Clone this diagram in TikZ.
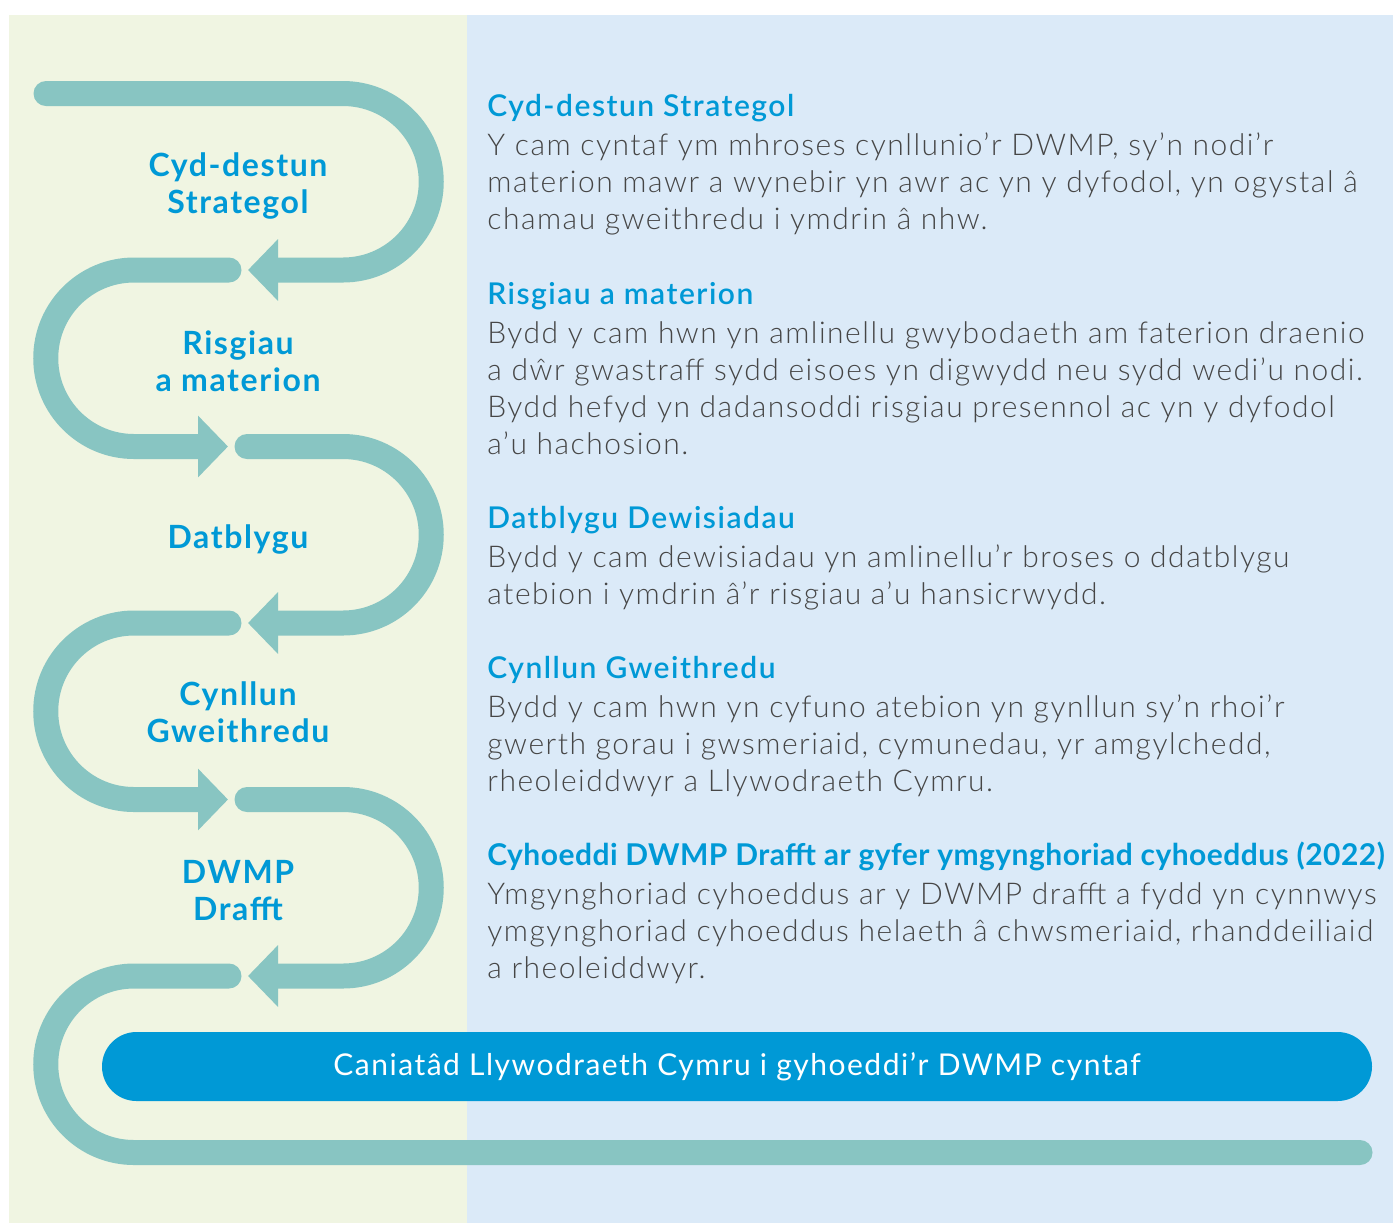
\documentclass[tikz,border=0pt]{standalone}
\usepackage{fontspec}
\setmainfont{Lato}[LetterSpace=5]
\newfontfamily\lightfont{Lato Light}[LetterSpace=5]
\newfontfamily\plainfont{Lato}[LetterSpace=1.5]
\usetikzlibrary{arrows.meta}
\definecolor{trackteal}{RGB}{136,197,194}
\definecolor{panelgreen}{RGB}{240,245,226}
\definecolor{panelblue}{RGB}{219,234,248}
\definecolor{dwmpblue}{RGB}{0,153,214}
\definecolor{bodygrey}{RGB}{70,70,70}
\newcommand\stephead[1]{{\bfseries\color{dwmpblue}#1}}
\tikzset{
  track/.style={draw=trackteal, line width=12.5pt, line cap=round},
  tip/.style={-{Triangle[length=15pt,width=30pt]}},
  steplabel/.style={anchor=base, inner sep=0pt, font=\fontsize{16}{18.5}\selectfont\bfseries, text=dwmpblue},
  infoblock/.style={anchor=base west, inner sep=0pt, font=\fontsize{15}{18.5}\selectfont\lightfont, text=bodygrey},
  permit/.style={fill=dwmpblue, rounded corners=17.25pt, minimum width=635pt, minimum height=34.5pt, inner sep=0pt, text=white, font=\fontsize{15}{18}\selectfont}
}
\begin{document}
\begin{tikzpicture}[x=0.5pt,y=-0.5pt]
\useasboundingbox (0,0) rectangle (1393,1223);
% panels
\fill[panelgreen] (9,15) rectangle (467,1223);
\fill[panelblue] (467,15) rectangle (1393,1223);
% serpentine track
\foreach \xs/\y in {46/93.5,247/446.5,247/799.5}
  \draw[track,tip] (\xs,\y) -- (343,\y) arc(-90:90:88.25) -- (248,{\y+176.5});
\foreach \y in {270,623}
  \draw[track,tip] (229,\y) -- (134,\y) arc(-90:-270:88.25) -- (228,{\y+176.5});
\draw[track] (229,976) -- (134,976) arc(-90:-270:88.25) -- (1360,1152.5);
% step names
\node[steplabel] (context) at (238,176) {\begin{tabular}[t]{@{}c@{}}Cyd-destun\\Strategol\end{tabular}};
\node[steplabel] (risks) at (238,354) {\begin{tabular}[t]{@{}c@{}}Risgiau\\a materion\end{tabular}};
\node[steplabel] (options) at (238,548) {Datblygu};
\node[steplabel] (plan) at (238,705) {\begin{tabular}[t]{@{}c@{}}Cynllun\\Gweithredu\end{tabular}};
\node[steplabel] (draft) at (238,883) {\begin{tabular}[t]{@{}c@{}}DWMP\\Drafft\end{tabular}};
% descriptions
\node[infoblock] (contextinfo) at (487,116) {\begin{tabular}[t]{@{}l@{}}\stephead{Cyd-destun Strategol}\\[1pt]
  Y cam cyntaf ym mhroses cynllunio’r DWMP, sy’n nodi’r\\
  materion mawr a wynebir yn awr ac yn y dyfodol, yn ogystal â\\
  chamau gweithredu i ymdrin â nhw.\end{tabular}};
\node[infoblock] (risksinfo) at (487,304) {\begin{tabular}[t]{@{}l@{}}\stephead{Risgiau a materion}\\[1pt]
  Bydd y cam hwn yn amlinellu gwybodaeth am faterion draenio\\
  a dŵr gwastraff sydd eisoes yn digwydd neu sydd wedi’u nodi.\\
  Bydd hefyd yn dadansoddi risgiau presennol ac yn y dyfodol\\
  a’u hachosion.\end{tabular}};
\node[infoblock] (optionsinfo) at (487,528) {\begin{tabular}[t]{@{}l@{}}\stephead{Datblygu Dewisiadau}\\[1pt]
  Bydd y cam dewisiadau yn amlinellu’r broses o ddatblygu\\
  atebion i ymdrin â’r risgiau a’u hansicrwydd.\end{tabular}};
\node[infoblock] (planinfo) at (487,678) {\begin{tabular}[t]{@{}l@{}}\stephead{Cynllun Gweithredu}\\[1pt]
  Bydd y cam hwn yn cyfuno atebion yn gynllun sy’n rhoi’r\\
  gwerth gorau i gwsmeriaid, cymunedau, yr amgylchedd,\\
  rheoleiddwyr a Llywodraeth Cymru.\end{tabular}};
\node[infoblock] (draftinfo) at (487,865) {\begin{tabular}[t]{@{}l@{}}{\plainfont\stephead{Cyhoeddi DWMP Drafft ar gyfer ymgynghoriad cyhoeddus (2022)}}\\[1pt]
  Ymgynghoriad cyhoeddus ar y DWMP drafft a fydd yn cynnwys\\
  ymgynghoriad cyhoeddus helaeth â chwsmeriaid, rhanddeiliaid\\
  a rheoleiddwyr.\end{tabular}};
% final approval
\node[permit] (permit) at (737,1066.5) {Caniatâd Llywodraeth Cymru i gyhoeddi’r DWMP cyntaf};
\end{tikzpicture}
\end{document}
